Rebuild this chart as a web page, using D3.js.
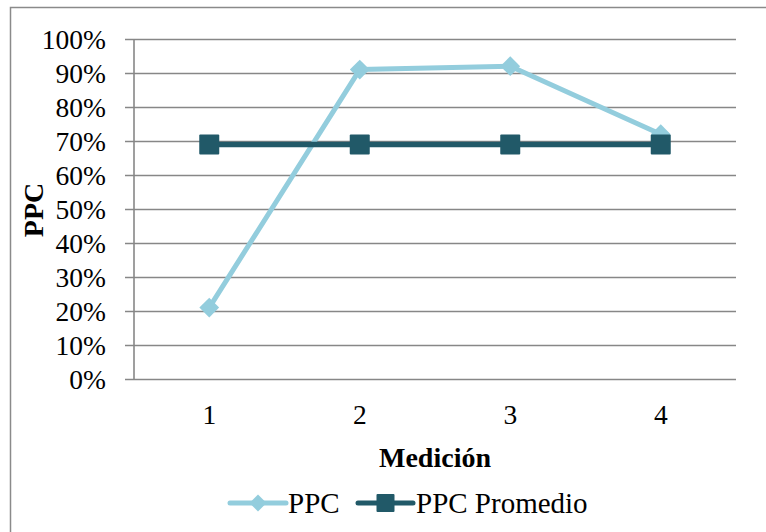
<!DOCTYPE html>
<html><head><meta charset="utf-8">
<script src="https://cdn.jsdelivr.net/npm/d3@7"></script>
<style>body{margin:0;background:#fff}svg{display:block}svg text{font-family:"Liberation Serif","Times New Roman",serif}</style>
</head><body>
<svg id="c" width="766" height="532"></svg>
<script>
const categories = ["1","2","3","4"];
const ppc = [0.21, 0.91, 0.92, 0.72];
const ppcPromedio = [0.69, 0.69, 0.69, 0.69];
const yTicks = [0,0.1,0.2,0.3,0.4,0.5,0.6,0.7,0.8,0.9,1.0];
const seriesNames = ["PPC","PPC Promedio"];
const colors = ["#93CDDD","#215968"];

const svg = d3.select("#c");
svg.append("rect").attr("x",10.5).attr("y",7.5).attr("width",800).attr("height",600)
  .attr("fill","#fff").attr("stroke","#8a8a8a").attr("stroke-width",1.5);

const L=134, R=736, T=39, B=379;
const x = d3.scaleBand().domain(categories).range([L,R]);
const y = d3.scaleLinear().domain([0,1]).range([B,T]);
const cx = d => x(d)+x.bandwidth()/2;

// gridlines + y ticks
const ga = svg.append("g").attr("transform",`translate(${L},0)`)
  .call(d3.axisLeft(y).tickValues(yTicks).tickFormat(d3.format(".0%")).tickSize(-(R-L)).tickSizeOuter(0));
ga.attr("font-family",null);
ga.select(".domain").remove();
ga.selectAll(".tick line").attr("stroke","#878787").attr("stroke-width",1.6).attr("x1",-9);
ga.selectAll(".tick text").attr("font-size",27.5).attr("fill","#000")
  .attr("x",-28).attr("dy","0.33em");
svg.append("line").attr("x1",L).attr("x2",L).attr("y1",T).attr("y2",B).attr("stroke","#878787").attr("stroke-width",1.6);

// x labels
const xa = svg.append("g").attr("transform",`translate(0,${B})`)
  .call(d3.axisBottom(x).tickSize(0).tickSizeOuter(0));
xa.attr("font-family",null);
xa.select(".domain").remove();
xa.selectAll(".tick text").attr("font-size",27.5).attr("fill","#000").attr("y",25).attr("dy","0.71em");

// titles
svg.append("text").attr("x",(L+R)/2).attr("y",467).attr("text-anchor","middle")
  .attr("font-weight","bold").attr("font-size",28).text("Medición");
svg.append("text").attr("transform","translate(43,210) rotate(-90)").attr("text-anchor","middle")
  .attr("font-weight","bold").attr("font-size",28).text("PPC");

const line = d3.line().x((d,i)=>cx(categories[i])).y(d=>y(d));
const diamond = (g,px,py,s,c)=> g.append("rect").attr("x",px-s/2).attr("y",py-s/2).attr("width",s).attr("height",s)
  .attr("fill",c).attr("transform",`rotate(45,${px},${py})`);
const square = (g,px,py,s,c)=> g.append("rect").attr("x",px-s/2).attr("y",py-s/2).attr("width",s).attr("height",s).attr("rx",1).attr("fill",c);

// PPC series
svg.append("path").datum(ppc).attr("d",line).attr("fill","none").attr("stroke",colors[0]).attr("stroke-width",5).attr("stroke-linejoin","round");
const g1 = svg.append("g");
ppc.forEach((v,i)=>diamond(g1,cx(categories[i]),y(v),14,colors[0]));
// Promedio
svg.append("path").datum(ppcPromedio).attr("d",line).attr("fill","none").attr("stroke",colors[1]).attr("stroke-width",5.5);
const g2 = svg.append("g");
ppcPromedio.forEach((v,i)=>square(g2,cx(categories[i]),y(v),20,colors[1]));

// legend
const lg = svg.append("g");
const ly = 503;
const items = [{x1:230,x2:286,tx:288},{x1:358,x2:413,tx:416}];
items.forEach((it,i)=>{
  lg.append("line").attr("x1",it.x1).attr("x2",it.x2).attr("y1",ly).attr("y2",ly)
    .attr("stroke",colors[i]).attr("stroke-width",5).attr("stroke-linecap","round");
  const mx=(it.x1+it.x2)/2;
  if(i===0) diamond(lg,mx,ly,12,colors[0]); else square(lg,mx,ly,18,colors[1]);
  lg.append("text").attr("x",it.tx).attr("y",ly).attr("dy","0.33em")
    .attr("font-size",29).attr("fill","#000").text(seriesNames[i]);
});
</script>
</body></html>
